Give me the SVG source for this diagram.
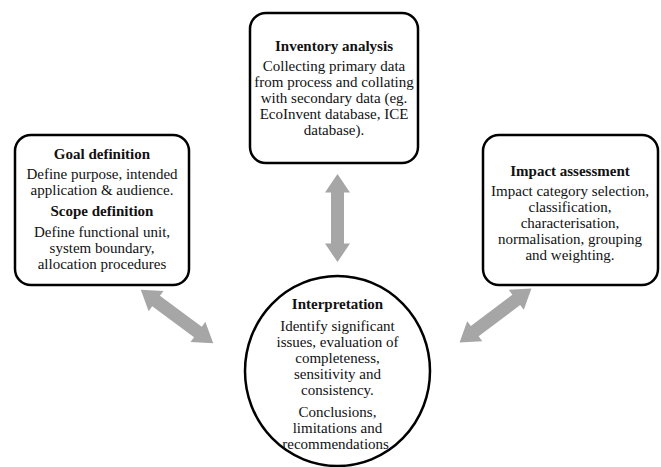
<svg xmlns="http://www.w3.org/2000/svg" xmlns:xlink="http://www.w3.org/1999/xlink" width="661" height="467" viewBox="0 0 661 467">
<style>
.box{fill:#fff;stroke:#000;stroke-width:2.5}
.t{font-family:"Liberation Serif","Times New Roman",serif;font-size:15px;fill:#111;text-anchor:middle}
.b{font-weight:bold;font-size:15px}
.arr{fill:#a6a6a6}
</style>
<defs>
<path id="dbl" d="M-45,0 L-26,-12.5 L-26,-6.5 L26,-6.5 L26,-12.5 L45,0 L26,12.5 L26,6.5 L-26,6.5 L-26,12.5 Z"/>
</defs>
<rect width="661" height="467" fill="#fff"/>
<g id="connectors" class="arr">
<use xlink:href="#dbl" transform="translate(337.5,218) rotate(90) scale(0.98,1)"/>
<use xlink:href="#dbl" transform="translate(177,316.5) rotate(36.4)"/>
<use xlink:href="#dbl" transform="translate(495.5,315.5) rotate(143)"/>
</g>
<g id="inventory">
<rect class="box" x="250" y="13" width="168" height="150" rx="16"/>
<text class="t b" x="334" y="51">Inventory analysis</text>
<text class="t" x="334" y="71">Collecting primary data</text>
<text class="t" x="334" y="87">from process and collating</text>
<text class="t" x="334" y="103">with secondary data (eg.</text>
<text class="t" x="334" y="119">EcoInvent database, ICE</text>
<text class="t" x="334" y="135">database).</text>
</g>
<g id="goal">
<rect class="box" x="15" y="135" width="174" height="150" rx="16"/>
<text class="t b" x="102" y="159">Goal definition</text>
<text class="t" x="102" y="179">Define purpose, intended</text>
<text class="t" x="102" y="195">application &amp; audience.</text>
<text class="t b" x="102" y="216">Scope definition</text>
<text class="t" x="102" y="237">Define functional unit,</text>
<text class="t" x="102" y="253">system boundary,</text>
<text class="t" x="102" y="269">allocation procedures</text>
</g>
<g id="impact">
<rect class="box" x="483" y="135" width="175" height="150" rx="16"/>
<text class="t b" x="570" y="176">Impact assessment</text>
<text class="t" x="570" y="196">Impact category selection,</text>
<text class="t" x="570" y="212">classification,</text>
<text class="t" x="570" y="228">characterisation,</text>
<text class="t" x="570" y="244">normalisation, grouping</text>
<text class="t" x="570" y="260">and weighting.</text>
</g>
<g id="interpretation">
<ellipse class="box" cx="337.5" cy="371" rx="92.5" ry="95"/>
<text class="t b" x="337.5" y="309">Interpretation</text>
<text class="t" x="337.5" y="331">Identify significant</text>
<text class="t" x="337.5" y="347">issues, evaluation of</text>
<text class="t" x="337.5" y="363">completeness,</text>
<text class="t" x="337.5" y="379">sensitivity and</text>
<text class="t" x="337.5" y="395">consistency.</text>
<text class="t" x="337.5" y="417">Conclusions,</text>
<text class="t" x="337.5" y="433">limitations and</text>
<text class="t" x="337.5" y="449">recommendations.</text>
</g>
</svg>
